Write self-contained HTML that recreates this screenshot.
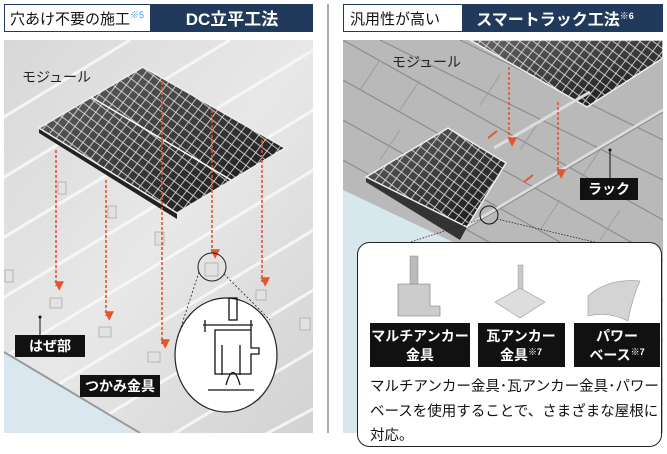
<!DOCTYPE html>
<html><head><meta charset="utf-8"><style>
html,body{margin:0;padding:0;background:#fff;overflow:hidden;}
svg{display:block;font-family:"Liberation Sans","Noto Sans CJK JP",sans-serif;}
</style></head><body>
<svg width="667" height="454" viewBox="0 0 667 454" xmlns="http://www.w3.org/2000/svg">
<defs>
<linearGradient id="lg" x1="0" y1="0" x2="1" y2="1">
<stop offset="0" stop-color="#d8d8d8"/><stop offset="0.5" stop-color="#e8e8e8"/><stop offset="1" stop-color="#d2d2d2"/></linearGradient>
<linearGradient id="pg" x1="0" y1="0" x2="1" y2="1">
<stop offset="0" stop-color="#666"/><stop offset="1" stop-color="#111"/></linearGradient>
<pattern id="cells" width="8" height="8" patternUnits="userSpaceOnUse" patternTransform="rotate(37)">
<rect width="8" height="8" fill="none" stroke="#f0f0f0" stroke-width="0.9"/></pattern>
<clipPath id="cl"><rect x="4" y="40" width="309" height="393"/></clipPath>
<clipPath id="cr"><rect x="343" y="40" width="320" height="393"/></clipPath>
<marker id="ah" markerWidth="6" markerHeight="6" refX="3" refY="5" orient="auto"><path d="M0,0 L6,0 L3,6z" fill="#e8532b" transform="rotate(-90 3 3)"/></marker>
</defs>

<rect x="4.5" y="4.5" width="146" height="27" fill="#fff" stroke="#213a5c"/>
<rect x="150" y="4" width="163" height="28" fill="#213a5c"/>
<text x="10" y="24" font-size="15" fill="#111">穴あけ不要の施工<tspan font-size="9" fill="#3a9ad9" dy="-6">※5</tspan></text>
<text x="232" y="25" font-size="17" font-weight="bold" fill="#fff" text-anchor="middle">DC立平工法</text>

<rect x="343.5" y="4.5" width="119" height="27" fill="#fff" stroke="#213a5c"/>
<rect x="462" y="4" width="201" height="28" fill="#213a5c"/>
<text x="350" y="24" font-size="15" fill="#111">汎用性が高い</text>
<text x="555" y="25" font-size="16" font-weight="bold" fill="#fff" text-anchor="middle">スマートラック工法<tspan font-size="9" dy="-6">※6</tspan></text>

<line x1="328" y1="4" x2="328" y2="433" stroke="#555" stroke-width="1"/>

<g clip-path="url(#cl)">
<rect x="4" y="40" width="309" height="393" fill="url(#lg)"/>
<g stroke="#f8f8f8" stroke-width="3" opacity="0.9">
<line x1="-50" y1="150" x2="130" y2="40"/><line x1="-50" y1="210" x2="230" y2="40"/>
<line x1="-50" y1="270" x2="330" y2="40"/><line x1="-50" y1="330" x2="330" y2="100"/>
<line x1="-50" y1="390" x2="330" y2="160"/><line x1="-50" y1="450" x2="330" y2="220"/>
<line x1="0" y1="480" x2="330" y2="280"/><line x1="80" y1="490" x2="330" y2="340"/>
<line x1="160" y1="490" x2="330" y2="400"/>
</g>
<polygon points="4,352 140,433 4,433" fill="#dbe7ee"/>
<line x1="4" y1="352" x2="140" y2="433" stroke="#999" stroke-width="2"/>
<polygon points="39,128 143,67 285,148 177,213 177,219 39,133" fill="#222"/>
<polygon points="39,128 143,67 285,148 177,213" fill="url(#pg)" stroke="#eee" stroke-width="1.5"/>
<polygon points="39,128 143,67 285,148 177,213" fill="url(#cells)" opacity="0.85"/>
<line x1="91" y1="97" x2="231" y2="180" stroke="#fff" stroke-width="1.5"/>
<text x="22" y="82" font-size="14" fill="#222">モジュール</text>
<g fill="#e2e2e2" stroke="#9a9a9a" stroke-width="0.6">
<rect x="58" y="182" width="8" height="12"/><rect x="108" y="206" width="8" height="12"/>
<rect x="155" y="232" width="9" height="13"/><rect x="50" y="298" width="12" height="10"/>
<rect x="99" y="327" width="12" height="10"/><rect x="148" y="352" width="12" height="10"/>
<rect x="205" y="263" width="13" height="13"/><rect x="256" y="290" width="10" height="10"/>
<rect x="5" y="270" width="8" height="12"/><rect x="300" y="318" width="10" height="12"/>
<rect x="248" y="390" width="12" height="10"/>
</g>
<g stroke="#e8532b" stroke-width="1.6" stroke-dasharray="3,2" fill="none" marker-end="url(#ah)">
<line x1="56" y1="150" x2="56" y2="286"/><line x1="106" y1="180" x2="106" y2="316"/>
<line x1="162" y1="82" x2="162" y2="344"/><line x1="212" y1="110" x2="212" y2="254"/>
<line x1="262" y1="140" x2="262" y2="282"/>
</g>
<circle cx="212" cy="267" r="14" fill="none" stroke="#222" stroke-width="1"/>
<line x1="199" y1="272" x2="180" y2="330" stroke="#222" stroke-dasharray="2,2" stroke-width="0.8"/>
<line x1="224" y1="274" x2="270" y2="320" stroke="#222" stroke-dasharray="2,2" stroke-width="0.8"/>
<ellipse cx="226" cy="355" rx="51" ry="57" fill="#fff" stroke="#222" stroke-width="1.2"/>
<g fill="none" stroke="#111" stroke-width="1.3">
<rect x="229" y="298" width="8" height="22"/>
<path d="M203,325 h50 M205,320 v12 M251,320 v12 M215,330 h36 v18 h8 v6 h-8 v20 h-36z"/>
<path d="M222,345 v30 M240,345 v30 M226,385 q7,-25 14,0 M208,390 h46"/>
</g>
<line x1="40" y1="317" x2="40" y2="336" stroke="#111"/>
<circle cx="40" cy="317" r="1.5" fill="#111"/>
<rect x="15" y="335" width="70" height="22" fill="#111"/>
<text x="50" y="351" font-size="14" fill="#fff" text-anchor="middle" font-weight="bold">はぜ部</text>
<rect x="80" y="375" width="80" height="22" fill="#111"/>
<text x="120" y="391" font-size="14" fill="#fff" text-anchor="middle" font-weight="bold">つかみ金具</text>
</g>

<g clip-path="url(#cr)">
<rect x="343" y="40" width="320" height="393" fill="#b9b9b9"/>
<g stroke="#8e8e8e" stroke-width="1.2">
<line x1="343" y1="80" x2="663" y2="260"/><line x1="343" y1="120" x2="663" y2="300"/>
<line x1="343" y1="160" x2="663" y2="340"/><line x1="343" y1="40" x2="663" y2="220"/>
<line x1="380" y1="40" x2="663" y2="180"/><line x1="460" y1="40" x2="663" y2="140"/>
<line x1="343" y1="200" x2="663" y2="380"/>
</g>
<g stroke="#9c9c9c" stroke-width="1">
<line x1="380" y1="60" x2="360" y2="90"/><line x1="420" y1="80" x2="400" y2="110"/>
<line x1="400" y1="130" x2="380" y2="160"/><line x1="540" y1="120" x2="520" y2="150"/>
<line x1="600" y1="150" x2="580" y2="180"/><line x1="560" y1="200" x2="540" y2="230"/>
<line x1="620" y1="210" x2="600" y2="240"/><line x1="500" y1="75" x2="480" y2="105"/>
</g>
<polygon points="343,190 470,250 470,433 343,433" fill="#d8e6ee"/>
<polygon points="470,40 663,40 663,58 587,107" fill="url(#pg)" stroke="#eee" stroke-width="1.5"/>
<polygon points="470,40 663,40 663,58 587,107" fill="url(#cells)" opacity="0.85"/>
<line x1="494" y1="148" x2="590" y2="92" stroke="#ddd" stroke-width="3"/>
<line x1="459" y1="231" x2="663" y2="110" stroke="#ddd" stroke-width="3"/>
<line x1="459" y1="233" x2="663" y2="112" stroke="#888" stroke-width="1"/>
<polygon points="366,177 448,128 506,163 467,227 460,240 366,182" fill="#333"/>
<polygon points="366,177 448,128 506,163 467,227" fill="url(#pg)" stroke="#eee" stroke-width="1.5"/>
<polygon points="366,177 448,128 506,163 467,227" fill="url(#cells)" opacity="0.85"/>
<g stroke="#e8532b" stroke-width="1.6" stroke-dasharray="3,2" fill="none" marker-end="url(#ah)">
<line x1="509" y1="67" x2="509" y2="142"/><line x1="558" y1="102" x2="558" y2="174"/>
</g>
<g stroke="#e8532b" stroke-width="2" fill="none"><line x1="497" y1="131" x2="488" y2="138"/><line x1="533" y1="175" x2="524" y2="182"/></g>
<text x="392" y="67" font-size="14" fill="#222">モジュール</text>
<line x1="610" y1="150" x2="610" y2="178" stroke="#111"/><circle cx="610" cy="150" r="1.5" fill="#111"/>
<rect x="580" y="178" width="58" height="22" fill="#111"/>
<text x="609" y="194" font-size="14" fill="#fff" text-anchor="middle" font-weight="bold">ラック</text>
<circle cx="489" cy="215" r="9" fill="none" stroke="#111"/>
</g>
<line x1="481" y1="219" x2="362" y2="258" stroke="#222" stroke-dasharray="1.5,1.5" stroke-width="0.8"/>
<line x1="497" y1="219" x2="662" y2="258" stroke="#222" stroke-dasharray="1.5,1.5" stroke-width="0.8"/>
<rect x="357.5" y="242.5" width="304" height="204" rx="12" fill="#fff" stroke="#222"/>
<rect x="410" y="256" width="8" height="30" fill="#bbb" stroke="#888" stroke-width="0.5"/>
<path d="M398,284 h32 v22 h10 v10 h-42z" fill="#ccc" stroke="#777" stroke-width="0.6"/>
<rect x="518" y="265" width="5" height="35" fill="#c8c8c8" stroke="#999" stroke-width="0.5"/>
<polygon points="495,302 520,288 545,302 520,318" fill="#ddd" stroke="#999" stroke-width="0.6"/>
<path d="M588,296 q20,-18 52,-15 q-8,18 -12,40 q-20,-10 -40,-5z" fill="#d4d4d4" stroke="#999" stroke-width="0.6"/>
<rect x="370" y="323" width="100" height="44" fill="#111"/>
<rect x="478" y="323" width="87" height="44" fill="#111"/>
<rect x="574" y="323" width="86" height="44" fill="#111"/>
<g font-size="14" fill="#fff" text-anchor="middle" font-weight="bold">
<text x="420" y="341">マルチアンカー</text><text x="420" y="360">金具</text>
<text x="521" y="341">瓦アンカー</text><text x="521" y="360">金具<tspan font-size="9" dy="-5">※7</tspan></text>
<text x="617" y="341">パワー</text><text x="617" y="360">ベース<tspan font-size="9" dy="-5">※7</tspan></text>
</g>
<g font-size="14.5" fill="#111">
<text x="370" y="391">マルチアンカー金具･瓦アンカー金具･パワー</text>
<text x="370" y="416">ベースを使用することで、さまざまな屋根に</text>
<text x="370" y="440">対応。</text>
</g>
</svg>
</body></html>
